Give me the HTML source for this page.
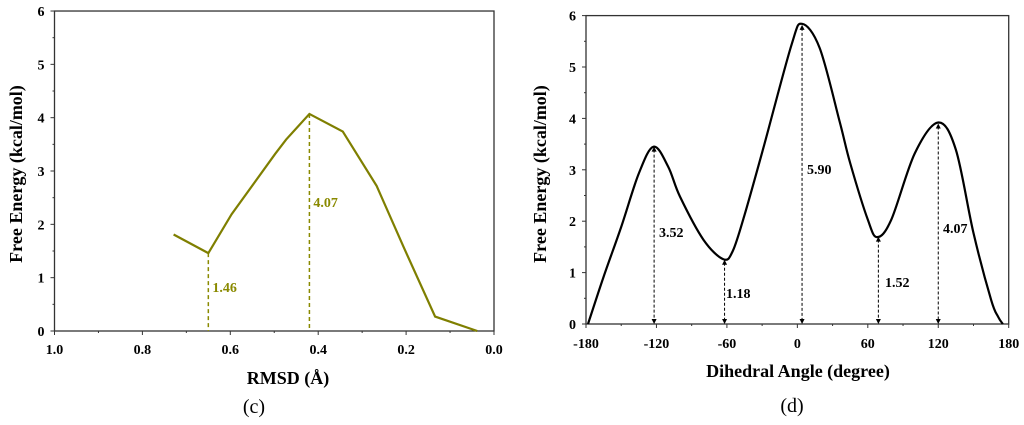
<!DOCTYPE html>
<html><head><meta charset="utf-8"><style>
html,body{margin:0;padding:0;background:#fff;width:1024px;height:425px;overflow:hidden}
svg{display:block;font-family:"Liberation Serif",serif}
</style></head><body>
<svg id="svg" width="1024" height="425"></svg>
<script>
// Panel (c) data
const rmsdX = [0.729, 0.65, 0.597, 0.498, 0.473, 0.42, 0.344, 0.267, 0.206, 0.134, 0.038];
const rmsdE = [1.81, 1.46, 2.19, 3.32, 3.59, 4.07, 3.74, 2.72, 1.58, 0.27, 0.0];
const rmsdTicks = ["1.0","0.8","0.6","0.4","0.2","0.0"];
const rmsdMarks = [[0.65,1.46,"1.46"],[0.42,4.07,"4.07"]];
// Panel (d) data
const angX = [-178.3,-165,-150,-135,-122.4,-110,-100,-80,-63,-55,-45,-29,-5,4,19,36,45,60,68,80,100,120,135,150,165,171,175];
const angE = [0,0.92,1.89,2.93,3.45,3.06,2.48,1.64,1.26,1.42,2.12,3.42,5.43,5.84,5.37,3.94,3.13,2.03,1.69,2.03,3.32,3.92,3.39,1.77,0.47,0.14,0];
const angTicks = [-180,-120,-60,0,60,120,180];
const angMarks = [[-122,3.45,"3.52",659,232],[-62,1.25,"1.18",726,293],[4,5.82,"5.90",807,169],[69,1.7,"1.52",885,282],[120,3.9,"4.07",943,228]];
const yTicks = [0,1,2,3,4,5,6];

const NS="http://www.w3.org/2000/svg", svg=document.getElementById('svg');
function el(t,a,txt){const e=document.createElementNS(NS,t);for(const k in a)e.setAttribute(k,a[k]);if(txt!=null)e.textContent=txt;svg.appendChild(e);return e;}

const cx=v=>54.5+(1-v)*439.5, cy=v=>331-v*53.33;
const dx=v=>586+(v+180)*1.1742, dy=v=>324-v*51.4;

function frame(x0,x1,y0,y1,name){
  const r=el('rect',{x:x0,y:y0,width:x1-x0,height:y1-y0,fill:'none',stroke:'#333','stroke-width':1.3});
  
}
function ytick(xAxis,yfun,name){
  yTicks.forEach(v=>{
    const y=yfun(v);
    const l=el('line',{x1:xAxis-4,x2:xAxis,y1:y,y2:y,stroke:'#333','stroke-width':1});
    
    const t=el('text',{x:xAxis-10,y:y+5,'text-anchor':'end','font-size':14,'font-weight':'bold'},v);
    
    if(v<6){const ym=yfun(v+0.5);const m=el('line',{x1:xAxis-2,x2:xAxis,y1:ym,y2:ym,stroke:'#333','stroke-width':1});
    }
  });
}

// ---- Panel C ----
frame(cx(1),cx(0),cy(6),cy(0),'rmsd-plot');
ytick(cx(1),cy,'rmsd');
rmsdTicks.forEach((s,i)=>{
  const v=parseFloat(s),x=cx(v);
  const l=el('line',{x1:x,x2:x,y1:331,y2:335,stroke:'#333'});
  
  const t=el('text',{x:x,y:354,'text-anchor':'middle','font-size':14,'font-weight':'bold'},s);
  
  if(i<5){const xm=cx(v-0.1);const m=el('line',{x1:xm,x2:xm,y1:331,y2:333,stroke:'#333'});
  }
});
rmsdMarks.forEach(m=>{
  const l=el('line',{x1:cx(m[0]),x2:cx(m[0]),y1:cy(m[1]),y2:331,stroke:'#8a8a00','stroke-width':1.5,'stroke-dasharray':'4,3'});
  
  const t=el('text',{x:cx(m[0])+4,y:m[1]>3?207:292,'font-size':14,'font-weight':'bold',fill:'#8a8a00'},m[2]);
  
});
const pc=el('polyline',{points:rmsdX.map((v,i)=>cx(v)+','+cy(rmsdE[i])).join(' '),fill:'none',stroke:'#7f7f00','stroke-width':2.2});

let t;
t=el('text',{x:288,y:384,'text-anchor':'middle','font-size':18,'font-weight':'bold'},'RMSD (Å)');

t=el('text',{x:0,y:0,'text-anchor':'middle','font-size':18,'font-weight':'bold',transform:'translate(22,174) rotate(-90)'},'Free Energy (kcal/mol)');

t=el('text',{x:254,y:413,'text-anchor':'middle','font-size':20},'(c)');


// ---- Panel D ----
frame(dx(-180),dx(180),dy(6),dy(0),'dihedral-plot');
ytick(dx(-180),dy,'dihedral');
angTicks.forEach((v,i)=>{
  const x=dx(v);
  const l=el('line',{x1:x,x2:x,y1:324,y2:328,stroke:'#333'});
  
  const tt=el('text',{x:x,y:348,'text-anchor':'middle','font-size':14,'font-weight':'bold'},v);
  
  if(i<6){const xm=dx(v+30);const m=el('line',{x1:xm,x2:xm,y1:324,y2:326,stroke:'#333'});
  }
});
const P=angX.map((v,i)=>[dx(v),dy(angE[i])]);
let d='M'+P[0][0]+','+P[0][1];
for(let i=0;i<P.length-1;i++){
  const p0=P[i-1]||P[i],p1=P[i],p2=P[i+1],p3=P[i+2]||P[i+1];
  d+=' C'+(p1[0]+(p2[0]-p0[0])/6)+','+(p1[1]+(p2[1]-p0[1])/6)+' '+(p2[0]-(p3[0]-p1[0])/6)+','+(p2[1]-(p3[1]-p1[1])/6)+' '+p2[0]+','+p2[1];
}
const pd=el('path',{d:d,fill:'none',stroke:'#000','stroke-width':2.2});

angMarks.forEach(m=>{
  const x=dx(m[0]),yt=dy(m[1]);
  const l=el('line',{x1:x,x2:x,y1:yt+3,y2:321,stroke:'#000','stroke-width':1,'stroke-dasharray':'3,2'});
  
  const a1=el('path',{d:`M${x-2.5},${yt+5}L${x},${yt}L${x+2.5},${yt+5}Z`,fill:'#000'});
  
  const a2=el('path',{d:`M${x-2.5},319L${x},324L${x+2.5},319Z`,fill:'#000'});
  
  const tt=el('text',{x:m[3],y:m[4]+5,'font-size':14,'font-weight':'bold'},m[2]);
  
});
t=el('text',{x:798,y:377,'text-anchor':'middle','font-size':18,'font-weight':'bold'},'Dihedral Angle (degree)');

t=el('text',{x:0,y:0,'text-anchor':'middle','font-size':18,'font-weight':'bold',transform:'translate(546,174) rotate(-90)'},'Free Energy (kcal/mol)');

t=el('text',{x:792,y:412,'text-anchor':'middle','font-size':20},'(d)');

</script>
</body></html>
